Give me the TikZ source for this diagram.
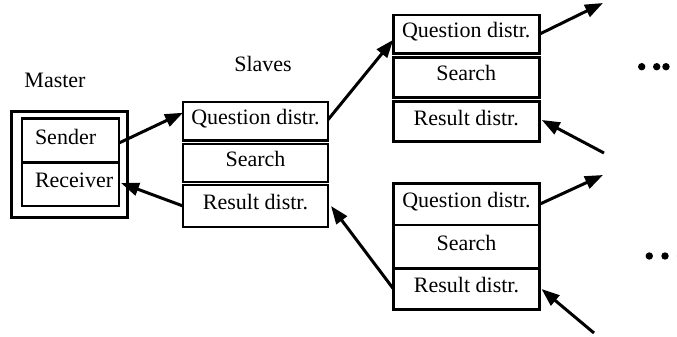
\documentclass[tikz,border=0pt]{standalone}
\usepackage{fontspec}
\setmainfont{Liberation Serif}
\usetikzlibrary{arrows.meta}
\begin{document}
\begin{tikzpicture}[x=1pt,y=-1pt,
  font=\fontsize{22}{26}\selectfont,
  box/.style={draw,line width=2.8pt,rectangle,inner sep=0pt,outer sep=0pt,
    text height=15pt,text depth=8pt},
  stackbox/.style={box,minimum width=146pt},
  mbox/.style={box,minimum width=97pt,minimum height=43.5pt,text width=71pt,align=left},
  arr/.style={line width=3pt,-{Triangle[length=18pt,width=13pt]}},
  lbl/.style={anchor=base,inner sep=0pt}]
\useasboundingbox (0,0) rectangle (677,337);

% master process
\node[box,minimum width=116pt,minimum height=106pt,line width=3pt] (master) at (69,164) {};
\node[mbox] (sender) at (70.5,140.5) {Sender};
\node[mbox,minimum height=44pt] (receiver) at (70.5,184) {Receiver};
\node[lbl] (masterlbl) at (55,88) {Master};

% first slave
\node[lbl] (slaveslbl) at (263,71) {Slaves};
\node[stackbox,minimum width=145pt,minimum height=38.5pt] (mq) at (255.5,121.25) {Question distr.};
\node[stackbox,minimum width=145pt,minimum height=38pt] (ms) at (255.5,163) {Search};
\node[stackbox,minimum width=145pt,minimum height=42pt] (mr) at (255.5,206) {Result distr.};

% upper slave
\node[stackbox,minimum height=38.5pt] (tq) at (466.25,34.25) {Question distr.};
\node[stackbox,minimum height=39.5pt] (ts) at (466.25,77.5) {Search};
\node[stackbox,minimum height=40.5pt] (tr) at (466.25,121.5) {Result distr.};

% lower slave
\node[stackbox,minimum height=41.5pt] (bq) at (466.5,204.25) {Question distr.};
\node[stackbox,minimum height=43.5pt] (bs) at (466.5,246.75) {Search};
\node[stackbox,minimum height=41pt] (br) at (466.5,289) {Result distr.};

% loose ends of the outer links
\coordinate (tout) at (603,3);
\coordinate (tin) at (604,153);
\coordinate (bout) at (603,175);
\coordinate (bin) at (594,333);

% links
\draw[arr] ([yshift=-2.5pt]sender.east) -- ([yshift=8.5pt]mq.west);
\draw[arr] (mr.west) -- ([xshift=2pt,yshift=1pt]receiver.east);
\draw[arr] ([yshift=1.5pt]mq.east) -- ([yshift=-5.5pt]tq.west);
\draw[arr] (br.west) -- ([xshift=3pt]mr.east);
\draw[arr] (tq.east) -- (tout);
\draw[arr] (tin) -- ([xshift=2.5pt,yshift=1.5pt]tr.east);
\draw[arr] (bq.east) -- (bout);
\draw[arr] (bin) -- ([xshift=2pt]br.east);

% further slaves
\foreach \px in {641.7,656.7,666} \fill (\px,66.7) circle (3.7pt);
\foreach \px in {649.3,665,680.5} \fill (\px,256) circle (3.7pt);
\end{tikzpicture}
\end{document}
